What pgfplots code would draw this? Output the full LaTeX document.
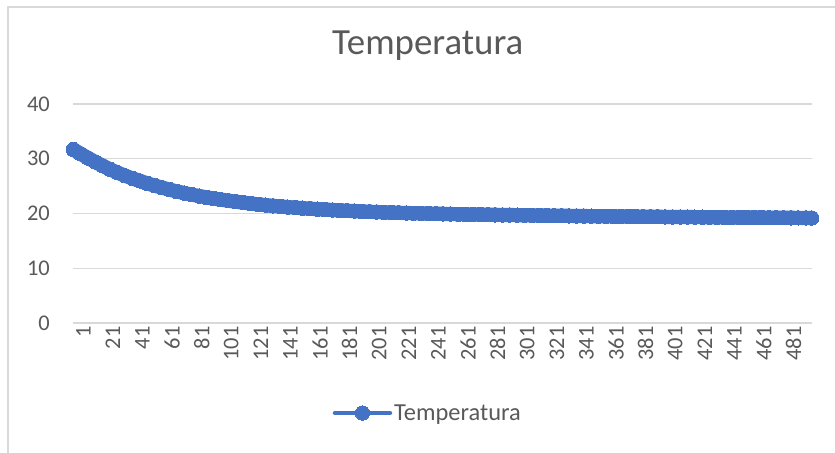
\documentclass[border=0pt]{standalone}
\usepackage{pgfplots}
\pgfplotsset{compat=1.18}
\usepackage{fontspec}
\setmainfont{Carlito}
\definecolor{linec}{HTML}{4472C4}
\definecolor{gridc}{HTML}{D9D9D9}
\definecolor{textc}{HTML}{595959}
\pgfplotstableread{
x y
1 31.7
6 30.9
11 30.12
16 29.4
21 28.7
26 28.05
31 27.45
36 26.9
41 26.4
46 25.95
51 25.5
56 25.1
61 24.72
66 24.37
71 24.03
76 23.73
81 23.45
86 23.19
91 22.95
96 22.73
101 22.52
106 22.33
111 22.15
116 21.98
121 21.82
126 21.67
131 21.53
136 21.4
141 21.28
146 21.17
151 21.07
156 20.97
161 20.88
166 20.8
171 20.72
176 20.64
181 20.57
186 20.5
191 20.44
196 20.38
201 20.32
206 20.27
211 20.22
216 20.17
221 20.13
226 20.09
231 20.05
236 20.02
241 19.99
246 19.96
251 19.93
256 19.90
261 19.87
266 19.85
271 19.82
276 19.80
281 19.78
286 19.76
291 19.74
296 19.72
301 19.70
306 19.68
311 19.66
316 19.64
321 19.62
326 19.60
331 19.58
336 19.57
341 19.55
346 19.53
351 19.52
356 19.50
361 19.49
366 19.47
371 19.46
376 19.45
381 19.43
386 19.42
391 19.41
396 19.40
401 19.38
406 19.37
411 19.36
416 19.35
421 19.34
426 19.33
431 19.32
436 19.31
441 19.30
446 19.29
451 19.28
456 19.27
461 19.26
466 19.25
471 19.24
476 19.23
481 19.22
486 19.21
491 19.20
496 19.19
500 19.18
}\temps
\begin{document}
\begin{tikzpicture}
\useasboundingbox (0bp,0bp) rectangle (835bp,453bp);
\draw[gridc, line width=1.5bp] (8bp,0bp) -- (8bp,446bp) -- (835bp,446bp);
\begin{axis}[
  at={(73.3bp,130bp)}, anchor=south west,
  scale only axis, width=738.4bp, height=219bp,
  xmin=1, xmax=500, ymin=0, ymax=40,
  axis line style={draw=none},
  clip=false,
  ytick={0,10,20,30,40},
  xtick={1,21,...,481},
  major tick length=0pt,
  ymajorgrids,
  grid style={gridc, line width=1.3bp},
  /pgf/number format/assume math mode=true,
  ticklabel style={text=textc, font=\fontsize{22.5}{26}\selectfont},
  yticklabel style={anchor=east, xshift=-20bp},
  xticklabel style={rotate=90, anchor=east, yshift=-10bp},
  title={Temperatura},
  title style={at={(axis description cs:0.480,1.237)}, anchor=center, text=textc, font=\fontsize{37}{42}\selectfont},
  legend style={at={(axis description cs:0.48,-0.411)}, anchor=center, draw=none, fill=none, text=textc, font=\fontsize{24.5}{28}\selectfont, inner sep=0pt},
  legend image code/.code={\draw[#1, mark=none, line width=4.5bp] (0bp,0bp) -- (55bp,0bp); \path[#1] plot coordinates {(27.5bp,0bp)};},
]
\addplot[linec, line width=14.2bp, line join=round, line cap=round, mark=*, mark size=7.2bp, mark options={linec, line width=0pt}] table[x=x,y=y] {\temps};
\addlegendentry{Temperatura}
\end{axis}
\end{tikzpicture}
\end{document}
